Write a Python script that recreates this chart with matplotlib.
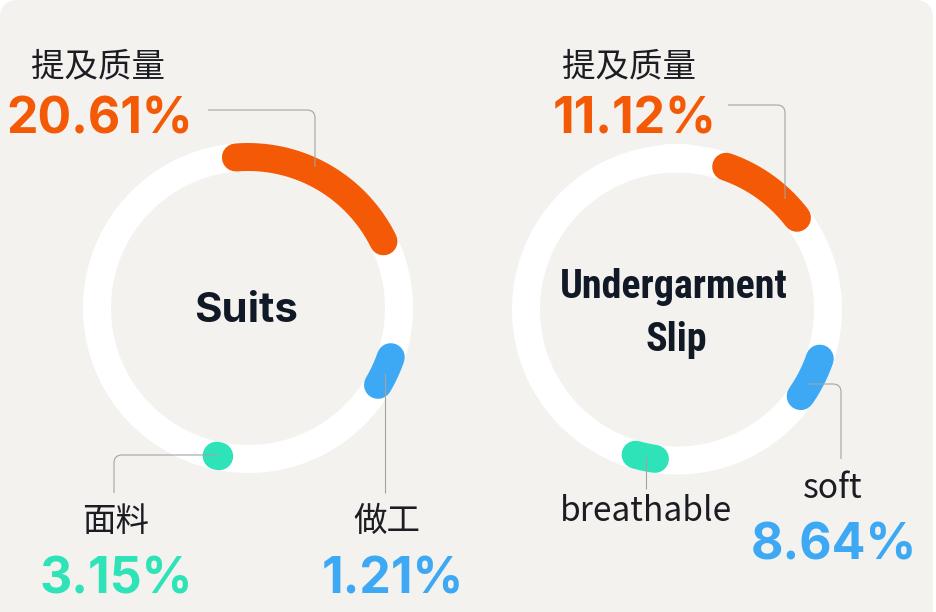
import numpy as np
import matplotlib
matplotlib.use("Agg")
import matplotlib.pyplot as plt
from matplotlib.path import Path
from matplotlib.patches import PathPatch, FancyBboxPatch

# data
products = ["Suits", "Undergarment\nSlip"]
aspect_labels = [["提及质量", "做工", "面料"], ["提及质量", "soft", "breathable"]]
aspect_values = [[20.61, 1.21, 3.15], [11.12, 8.64, None]]
# arc extent on the ring, degrees clockwise from 12 o'clock
arc_start = [[-4.6, 109.0, 191.0], [19.0, 109.0, 188.4]]
arc_end = [[63.8, 120.6, 192.0], [52.6, 125.0, 195.9]]
aspect_colors = ["#F45A06", "#3DA8F4", "#2FE3B8"]

W, H = 936, 612
DPI = 100
PX = 72.0 / DPI  # points per pixel

centers = [(248, 308), (677, 309.5)]
R = 151
RING_W = 28

# label layout (pixel coords): name x, name baseline, value x, value baseline
label_pos = [
    [(98, 76, 100, 133), (387, 531, 393, 593), (116, 531, 116, 593)],
    [(629, 76, 635, 133), (833, 498, 834, 559), (646, 521, None, None)],
]
# leader lines: start, corner (or None), end
leaders = [
    [((208, 110), (315, 110), (315, 167)),
     ((385, 373), None, (385, 493)),
     ((218, 455), (114, 455), (114, 493))],
    [((728, 105), (785, 105), (785, 199)),
     ((808, 384), (841, 384), (841, 459)),
     ((646, 456), None, (646, 489))],
]

fig = plt.figure(figsize=(W / DPI, H / DPI), dpi=DPI, facecolor="white")
ax = fig.add_axes([0, 0, 1, 1])
ax.set_xlim(0, W)
ax.set_ylim(H, 0)
ax.axis("off")

card = FancyBboxPatch((0, 0), 933, H + 30, boxstyle="round,pad=0,rounding_size=18",
                      facecolor="#F3F2EE", edgecolor="none", zorder=0)
ax.add_patch(card)


def ring_xy(c, a0, a1, n=200):
    t = np.radians(np.linspace(a0, a1, n))
    return c[0] + R * np.sin(t), c[1] - R * np.cos(t)


def leader(p0, corner, p1, r=8):
    if corner is None:
        verts = [p0, p1]
        codes = [Path.MOVETO, Path.LINETO]
    else:
        p0, corner, p1 = np.array(p0, float), np.array(corner, float), np.array(p1, float)
        d0 = (corner - p0) / np.linalg.norm(corner - p0)
        d1 = (p1 - corner) / np.linalg.norm(p1 - corner)
        a = corner - d0 * r
        b = corner + d1 * r
        verts = [p0, a, corner, b, p1]
        codes = [Path.MOVETO, Path.LINETO, Path.CURVE3, Path.CURVE3, Path.LINETO]
    ax.add_patch(PathPatch(Path(verts, codes), facecolor="none", edgecolor="#A3A3A3",
                           lw=1.0 * PX * 1.1, zorder=5))


cjk = ["Noto Sans CJK SC", "DejaVu Sans"]
num_font = ["Inter", "DejaVu Sans"]
title_font = ["Roboto Condensed", "Inter", "DejaVu Sans"]

for g, c in enumerate(centers):
    x, y = ring_xy(c, 0, 360, 400)
    ax.plot(x, y, color="white", lw=RING_W * PX, zorder=1)
    for k in range(3):
        x, y = ring_xy(c, arc_start[g][k], arc_end[g][k])
        ax.plot(x, y, color=aspect_colors[k], lw=RING_W * PX,
                solid_capstyle="round", zorder=2)
        leader(*leaders[g][k])
        nx, ny, vx, vy = label_pos[g][k]
        ax.text(nx, ny, aspect_labels[g][k], ha="center", va="baseline",
                fontsize=33.5 * PX, family=cjk, color="#1C1C22", zorder=6)
        if aspect_values[g][k] is not None:
            ax.text(vx, vy, f"{aspect_values[g][k]:.2f}%", ha="center", va="baseline",
                    fontsize=50 * PX, family=num_font, fontweight="bold",
                    color=aspect_colors[k], zorder=6)

# centre titles
ax.text(246, 322, products[0], ha="center", va="baseline", fontsize=42 * PX,
        family=num_font, fontweight="bold", color="#121926", zorder=6)
top, bottom = products[1].split("\n")
ax.text(674, 298, top, ha="center", va="baseline", fontsize=40 * PX,
        family=title_font, fontweight=800, color="#121926", zorder=6)
ax.text(676, 351, bottom, ha="center", va="baseline", fontsize=40 * PX,
        family=title_font, fontweight=800, color="#121926", zorder=6)

fig.savefig("out.png", dpi=DPI, facecolor="white")
